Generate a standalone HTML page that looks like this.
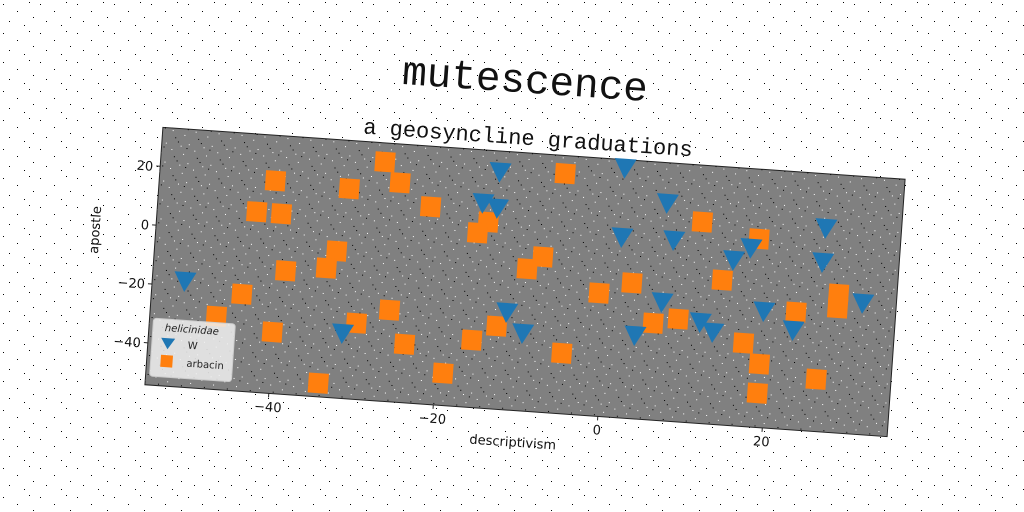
<!DOCTYPE html>
<html><head><meta charset="utf-8"><style>
html,body{margin:0;padding:0;background:#fff;}
svg{display:block;}
</style></head><body>
<svg id="chart" width="1024" height="512" viewBox="0 0 1024 512" xmlns="http://www.w3.org/2000/svg">
<defs>
<pattern id="noiseW" width="37" height="29" patternUnits="userSpaceOnUse">
<rect x="3" y="4" width="1" height="1" fill="#000"/><rect x="17" y="11" width="1" height="1" fill="#000"/><rect x="29" y="2" width="1" height="1" fill="#000"/><rect x="9" y="21" width="1" height="1" fill="#000"/><rect x="24" y="25" width="1" height="1" fill="#000"/><rect x="33" y="17" width="1" height="1" fill="#000"/>
</pattern>
<pattern id="noiseG" width="23" height="19" patternUnits="userSpaceOnUse">
<rect x="2" y="3" width="1" height="1" fill="#fff"/><rect x="14" y="7" width="1" height="1" fill="#fff"/><rect x="8" y="14" width="1" height="1" fill="#000"/><rect x="19" y="16" width="1" height="1" fill="#fff"/><rect x="5" y="10" width="1" height="1" fill="#000"/><rect x="17" y="1" width="1" height="1" fill="#000"/><rect x="11" y="18" width="1" height="1" fill="#fff"/>
</pattern>
</defs>
<rect width="1024" height="512" fill="url(#noiseW)"/>
<g id="fig" transform="rotate(4 525 282)">
<text x="511" y="93" text-anchor="middle" font-family="Liberation Mono, monospace" font-size="41" fill="#111">mutescence</text>
<text x="518" y="145" text-anchor="middle" font-family="Liberation Mono, monospace" font-size="22" fill="#111">a geosyncline graduations</text>
<rect x="153" y="153" width="744" height="258" fill="#808080" stroke="#222" stroke-width="1"/>
<rect x="153" y="153" width="744" height="258" fill="url(#noiseG)"/>
<g id="axes"></g>
<g id="marks"></g>
<text x="524" y="447" text-anchor="middle" font-family="DejaVu Sans, sans-serif" font-size="13" fill="#111">descriptivism</text>
<text x="0" y="0" transform="translate(97 260) rotate(-90)" text-anchor="middle" font-family="DejaVu Sans, sans-serif" font-size="13" fill="#111">apostle</text>
<g>
<rect x="157" y="344" width="82" height="58" rx="3" fill="#f0f0f0" fill-opacity="0.85" stroke="#ccc"/>
<text x="196" y="356" text-anchor="middle" font-family="DejaVu Sans, sans-serif" font-style="italic" font-size="10" fill="#222">helicinidae</text>
<polygon points="166,363 180,363 173,374" fill="#1f77b4"/>
<text x="193" y="372" font-family="DejaVu Sans, sans-serif" font-size="10" fill="#222">W</text>
<rect x="167" y="380" width="12" height="12" fill="#ff7f0e"/>
<text x="193" y="390" font-family="DejaVu Sans, sans-serif" font-size="10" fill="#222">arbacin</text>
</g>
</g>
</svg>
<script>
const xTicks = [-40, -20, 0, 20];
const yTicks = [20, 0, -20, -40];
const wX = [-51.1,-13.9,-15.7,-13.9,-31.6,-11.9,-9.8,1.2,6.6,1.4,7.7,26.0,17.1,15.1,25.9,31.1,19.2,6.8,11.6,13.2,22.9,3.8];
const wY = [-18.2,26.2,15.3,13.9,-32.1,-21.1,-27.8,30.5,19.6,7.0,7.2,14.9,6.4,1.9,3.3,-9.6,-14.7,-14.0,-19.9,-23.0,-20.4,-25.9];
const aX = [-27.9,-25.9,-32.0,-41.0,-22.0,-43.0,-40.0,-14.9,-16.1,-33.0,-34.1,-39.0,-9.8,-8.0,-44.1,-47.0,-30.0,-26.1,-40.1,-24.0,-15.9,-13.0,-19.1,-34.1,-6.0,11.0,18.0,-0.9,3.0,13.9,28.1,28.1,23.1,8.9,5.9,-4.9,17.0,19.1,19.1,26.1];
const aY = [26.8,20.1,16.9,17.8,12.7,6.9,6.8,8.9,5.0,-4.5,-10.5,-12.4,-6.0,-1.6,-21.3,-29.4,-28.4,-23.2,-33.4,-34.4,-31.4,-26.1,-43.3,-49.6,27.1,14.0,9.6,-12.5,-8.3,-5.2,-7.2,-11.9,-14.3,-19.4,-21.4,-33.7,-26.0,-32.7,-42.6,-36.5];
const X0 = 607, XS = 8.245, Y0 = 251, YS = 2.95;
const sx = v => X0 + v * XS;
const sy = v => Y0 - v * YS;
const NS = 'http://www.w3.org/2000/svg';
const axes = document.getElementById('axes');
const marks = document.getElementById('marks');
function mk(tag, attrs, parent){ const e=document.createElementNS(NS,tag); for(const k in attrs) e.setAttribute(k,attrs[k]); parent.appendChild(e); return e; }
xTicks.forEach(t => {
  const l = mk('line',{x1:sx(t),x2:sx(t),y1:411,y2:415,stroke:'#222'},axes);
  
  
  const tx = mk('text',{x:sx(t),y:429,'text-anchor':'middle','font-family':'DejaVu Sans, sans-serif','font-size':'13',fill:'#111'},axes);
  tx.textContent = t < 0 ? '\u2212' + Math.abs(t) : String(t);
  
  
});
yTicks.forEach(t => {
  const l = mk('line',{x1:149,x2:153,y1:sy(t),y2:sy(t),stroke:'#222'},axes);
  
  
  const tx = mk('text',{x:146,y:sy(t)+5,'text-anchor':'end','font-family':'DejaVu Sans, sans-serif','font-size':'13',fill:'#111'},axes);
  tx.textContent = t < 0 ? '\u2212' + Math.abs(t) : String(t);
  
  
});
aX.forEach((v,i) => {
  const x = sx(v), y = sy(aY[i]);
  const r = mk('rect',{x:x-10,y:y-10,width:20,height:20,fill:'#ff7f0e'},marks);
  
  
});
wX.forEach((v,i) => {
  const x = sx(v), y = sy(wY[i]);
  const p = mk('polygon',{points:`${x-11},${y-9} ${x+11},${y-9} ${x},${y+11}`,fill:'#1f77b4'},marks);
  
  
});
</script>
</body></html>
